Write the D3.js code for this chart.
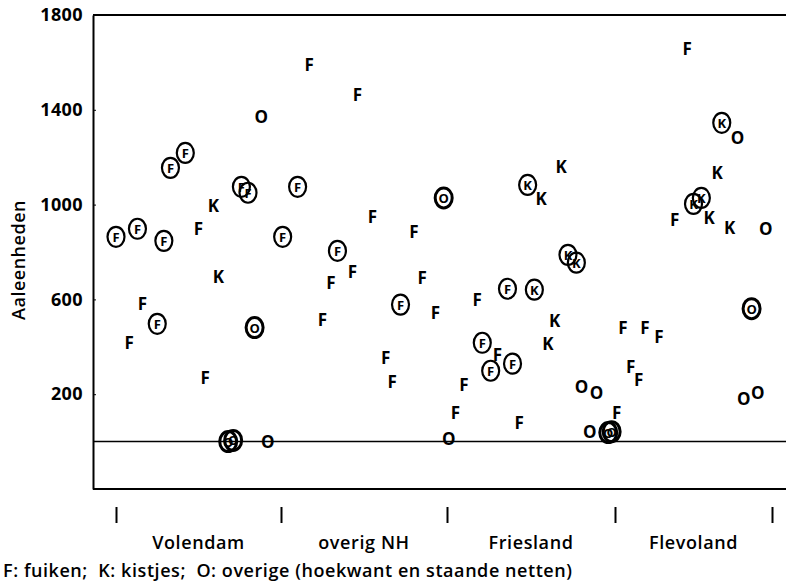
<!DOCTYPE html>
<meta charset="utf-8">
<style>
  body { margin: 0; background: #fff; }
  text { font-family: "Open Sans", sans-serif; fill: #000; }
</style>
<svg id="chart" width="786" height="581"></svg>
<script src="https://cdn.jsdelivr.net/npm/d3@7"></script>
<script>

var categories = ["Volendam", "overig NH", "Friesland", "Flevoland"];
var yTicks = [200, 600, 1000, 1400, 1800];
var caption = "F: fuiken;  K: kistjes;  O: overige (hoekwant en staande netten)";

// [positie binnen regio (0-4), aaleenheden, omcirkeld]
var fuiken = [
  [0.42, 1218, 1], [0.33, 1155, 1], [0.76, 1075, 1], [0.80, 1050, 1],
  [0.50, 898, 0], [0.00, 864, 1], [0.13, 898, 1], [0.29, 847, 1],
  [1.01, 864, 1], [0.16, 582, 0], [0.25, 497, 1], [0.08, 417, 0],
  [0.54, 270, 0],
  [1.17, 1593, 0], [1.46, 1463, 0], [1.10, 1075, 1], [1.55, 949, 0],
  [1.80, 885, 0], [1.34, 805, 1], [1.43, 717, 0], [1.30, 670, 0],
  [1.85, 691, 0], [1.72, 578, 1], [1.93, 544, 0], [1.25, 514, 0],
  [1.63, 354, 0], [1.67, 253, 0],
  [2.36, 645, 1], [2.18, 599, 0], [2.21, 417, 1], [2.30, 367, 0],
  [2.39, 329, 1], [2.26, 299, 1], [2.10, 240, 0], [2.05, 122, 0],
  [2.43, 80, 0], [3.01, 122, 0],
  [3.46, 1657, 0], [3.38, 936, 0], [3.05, 481, 0], [3.19, 481, 0],
  [3.28, 443, 0], [3.10, 315, 0], [3.15, 262, 0]
];
var kistjes = [
  [0.59, 995, 0], [0.62, 696, 0],
  [2.68, 1160, 0], [2.48, 1083, 1], [2.56, 1024, 0], [2.72, 788, 1],
  [2.77, 755, 1], [2.52, 641, 1], [2.64, 510, 0], [2.60, 413, 0],
  [3.68, 1345, 1], [3.65, 1134, 0], [3.50, 1003, 1], [3.55, 1028, 1],
  [3.60, 944, 0], [3.73, 902, 0]
];
var overige = [
  [0.88, 1370, 0], [0.84, 481, 1], [0.68, 0, 1], [0.71, 5, 1], [0.92, 0, 0],
  [1.98, 1028, 1], [2.01, 13, 0],
  [2.80, 232, 0], [2.89, 207, 0], [2.85, 42, 0], [2.96, 38, 1], [2.98, 42, 1],
  [3.78, 1282, 0], [3.96, 898, 0], [3.87, 561, 1], [3.82, 181, 0], [3.91, 207, 0]
];

var svg = d3.select("#chart");
var left = 93, right = 800;

var y = d3.scaleLinear().domain([-200, 1800]).range([489, 15]);
var x = d3.scaleLinear().domain([0, 1, 2, 3, 4]).range([116, 281, 447, 615, 772]);

// kader
var frame = svg.append("g").attr("stroke", "#000").attr("stroke-width", 2);
frame.append("line").attr("x1", left).attr("x2", right).attr("y1", y(1800)).attr("y2", y(1800));
frame.append("line").attr("x1", left).attr("x2", right).attr("y1", y(-200)).attr("y2", y(-200));
frame.append("line").attr("x1", left).attr("x2", right).attr("y1", y(0)).attr("y2", y(0))
  .attr("stroke-width", 1.5);

var yAxis = svg.append("g")
  .attr("transform", "translate(" + left + ",0)")
  .call(d3.axisLeft(y).tickValues(yTicks).tickFormat(d3.format("d"))
    .tickSize(-3).tickSizeOuter(0).tickPadding(10));
yAxis.select(".domain").attr("stroke-width", 2);
yAxis.selectAll("text")
  .style("font-family", "'Open Sans', sans-serif")
  .style("font-size", "18px").style("font-weight", 700)
  .style("letter-spacing", "0.4px");

svg.append("text")
  .attr("transform", "translate(18," + 260 + ") rotate(-90)")
  .attr("text-anchor", "middle")
  .attr("dominant-baseline", "central")
  .style("font-size", "18px").style("font-weight", 600)
  .style("letter-spacing", "0.5px")
  .text("Aaleenheden");

// regio-streepjes en namen
var xAxis = svg.append("g")
  .attr("transform", "translate(0,507)")
  .call(d3.axisBottom(x).tickValues([0, 1, 2, 3, 4]).tickSize(16).tickFormat(""));
xAxis.select(".domain").remove();
xAxis.selectAll("line").attr("stroke-width", 2);

svg.append("g").selectAll("text")
  .data(categories)
  .join("text")
  .attr("x", function(d, i) { return x(i + 0.5); })
  .attr("y", 542)
  .attr("text-anchor", "middle")
  .attr("dominant-baseline", "central")
  .style("font-size", "18px").style("font-weight", 600)
  .style("letter-spacing", "0.6px")
  .text(function(d) { return d; });

svg.append("text")
  .attr("x", 3).attr("y", 570)
  .attr("dominant-baseline", "central")
  .attr("textLength", 569)
  .attr("lengthAdjust", "spacing")
  .attr("xml:space", "preserve")
  .style("font-size", "18px").style("font-weight", 600)
  .text(caption);

// punten
function drawPoints(data, letter) {
  var g = svg.append("g").selectAll("g")
    .data(data)
    .join("g")
    .attr("transform", function(d) { return "translate(" + x(d[0]) + "," + y(d[1]) + ")"; });

  g.filter(function(d) { return d[2]; })
    .append("ellipse")
    .attr("rx", 8.5).attr("ry", 10)
    .attr("fill", "none")
    .attr("stroke", "#000")
    .attr("stroke-width", letter == "O" ? 3 : 2.2);

  g.append("text")
    .attr("text-anchor", "middle")
    .attr("dominant-baseline", "central")
    .style("font-weight", 700)
    .style("font-size", function(d) { return d[2] ? "13px" : "17px"; })
    .text(letter);
}

drawPoints(fuiken, "F");
drawPoints(kistjes, "K");
drawPoints(overige, "O");

</script>
